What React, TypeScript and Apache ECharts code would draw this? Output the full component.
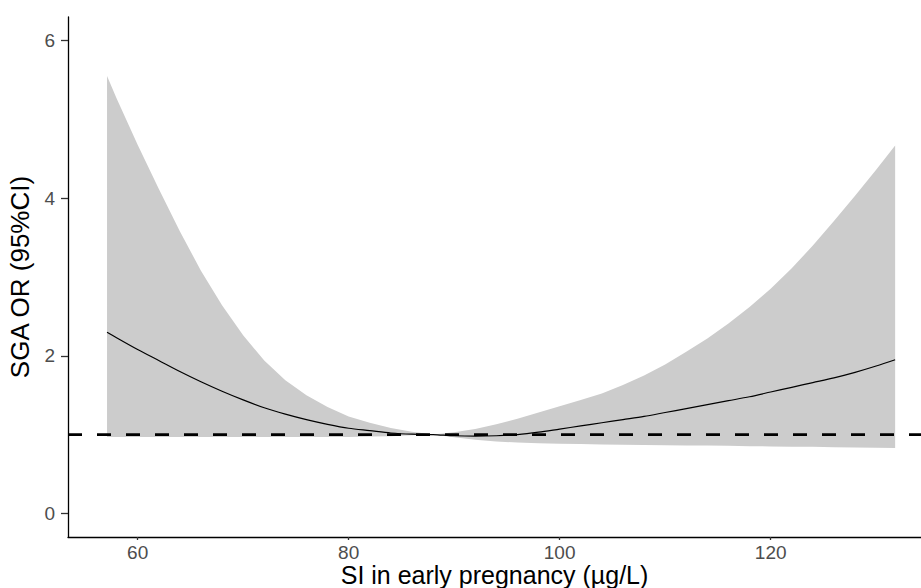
import React, { useEffect, useRef } from "react";
import * as echarts from "echarts";

// SI in early pregnancy (µg/L)
const xs = [57.1, 58, 60, 62, 64, 66, 68, 70, 72, 74, 76, 78, 80, 82, 84, 86, 88, 90, 92, 94, 96, 98, 100, 102, 104, 106, 108, 110, 112, 114, 116, 118, 120, 122, 124, 126, 128, 130, 131.8];
// fitted OR
const fitOR = [2.3, 2.23, 2.08, 1.94, 1.8, 1.67, 1.55, 1.44, 1.34, 1.26, 1.19, 1.13, 1.08, 1.05, 1.02, 1.005, 1.0, 0.985, 0.98, 0.985, 1.0, 1.03, 1.07, 1.11, 1.15, 1.19, 1.23, 1.28, 1.33, 1.38, 1.43, 1.48, 1.54, 1.6, 1.66, 1.72, 1.79, 1.87, 1.95];
// upper 95% CI
const upperCI = [5.55, 5.27, 4.68, 4.12, 3.58, 3.08, 2.64, 2.26, 1.94, 1.69, 1.5, 1.35, 1.23, 1.15, 1.085, 1.035, 1.0, 1.03, 1.07, 1.13, 1.2, 1.28, 1.36, 1.44, 1.52, 1.63, 1.75, 1.89, 2.05, 2.22, 2.41, 2.62, 2.85, 3.11, 3.4, 3.71, 4.03, 4.36, 4.67];
// lower 95% CI
const lowerCI = [0.97, 0.97, 0.97, 0.97, 0.97, 0.97, 0.97, 0.97, 0.97, 0.97, 0.97, 0.97, 0.97, 0.975, 0.98, 0.99, 1.0, 0.965, 0.935, 0.912, 0.898, 0.889, 0.883, 0.879, 0.875, 0.871, 0.868, 0.865, 0.862, 0.86, 0.857, 0.853, 0.85, 0.847, 0.844, 0.84, 0.837, 0.834, 0.83];

const xTicks = [60, 80, 100, 120];
const yTicks = [0, 2, 4, 6];
const refOR = 1;
const xMin = 53.4;
const xMax = 134.25;

const FONT = "'Liberation Sans', Arial, sans-serif";

export default function App() {
  const ref = useRef<HTMLDivElement>(null);
  useEffect(() => {
    document.body.style.margin = "0";
    const chart = echarts.init(ref.current!, null, { renderer: "svg" });
    const fitData = xs.map((x, i) => [x, fitOR[i]]);
    chart.setOption({
      animation: false,
      textStyle: { fontFamily: FONT },
      grid: { left: 68, right: 0, top: 17, bottom: 51, containLabel: false, outerBoundsMode: "none" },
      xAxis: {
        type: "value",
        min: xMin,
        max: xMax,
        name: "SI in early pregnancy (µg/L)",
        nameLocation: "middle",
        nameGap: 27,
        nameMoveOverlap: false,
        nameTextStyle: { fontSize: 25, lineHeight: 22, color: "#000", fontFamily: FONT },
        axisLine: { onZero: false, lineStyle: { color: "#000", width: 1.3 } },
        axisTick: { show: true, length: 3, customValues: xTicks, lineStyle: { color: "#333", width: 1.3 } },
        axisLabel: { customValues: xTicks, color: "#4d4d4d", fontSize: 19, lineHeight: 19, margin: 6, fontFamily: FONT },
        splitLine: { show: false },
      },
      yAxis: {
        type: "value",
        min: -0.3,
        max: 6.3,
        name: "SGA OR (95%CI)",
        nameLocation: "middle",
        nameGap: 35,
        nameMoveOverlap: false,
        nameTextStyle: { fontSize: 26, color: "#000", fontFamily: FONT },
        axisLine: { show: true, onZero: false, lineStyle: { color: "#000", width: 1.3 } },
        axisTick: { show: true, length: 7, customValues: yTicks, lineStyle: { color: "#333", width: 1.3 } },
        axisLabel: { customValues: yTicks, color: "#4d4d4d", fontSize: 19, margin: 13, fontFamily: FONT },
        splitLine: { show: false },
      },
      series: [
        {
          type: "custom",
          data: [[xs[0], lowerCI[0]]],
          encode: { x: 0, y: 1 },
          clip: true,
          silent: true,
          renderItem: (_params: any, api: any) => {
            const pts: number[][] = [];
            for (let i = 0; i < xs.length; i++) pts.push(api.coord([xs[i], upperCI[i]]));
            for (let i = xs.length - 1; i >= 0; i--) pts.push(api.coord([xs[i], lowerCI[i]]));
            return {
              type: "polygon",
              shape: { points: pts },
              style: { fill: "#cccccc", stroke: "none" },
            };
          },
          z: 1,
        },
        {
          type: "line",
          data: fitData,
          showSymbol: false,
          smooth: 0.3,
          lineStyle: { color: "#000", width: 1.2 },
          silent: true,
          z: 2,
        },
        {
          type: "line",
          data: [[xMin, refOR], [xMax, refOR]],
          showSymbol: false,
          lineStyle: { color: "#000", width: 2.6, type: [14, 15] },
          silent: true,
          z: 3,
        },
      ],
    });
    return () => chart.dispose();
  }, []);
  return <div ref={ref} style={{ width: 921, height: 588 }} />;
}
